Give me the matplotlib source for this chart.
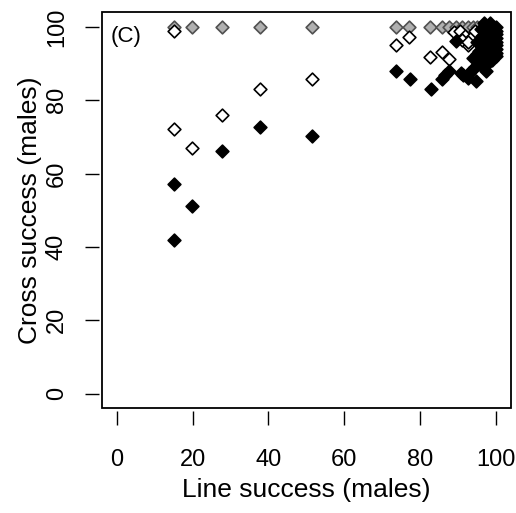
import matplotlib
matplotlib.use("Agg")
import matplotlib.pyplot as plt
from matplotlib.patches import Rectangle

plt.rcParams['font.family'] = ['Liberation Sans', 'DejaVu Sans']

# Grey-filled series (all at 100% cross success)
grey_x = [15.0, 19.8, 27.7, 37.9, 51.5, 73.7, 77.2, 82.7, 85.8, 87.6, 89.4, 91.0, 92.6, 94.0, 95.2]
grey_y = [100, 100, 100, 100, 100, 100, 100, 100, 100, 100, 100, 100, 100, 100, 100]

# Open series
open_x = [15.0, 15.0, 19.8, 27.7, 37.9, 51.5, 73.7, 77.2, 82.7, 85.8, 87.6, 92.6,
          89.0, 90.5, 92.0, 93.5, 94.5, 91.0, 92.8]
open_y = [99.0, 72.3, 66.9, 76.1, 83.1, 85.8, 95.0, 97.2, 91.8, 93.1, 91.3, 95.1,
          98.5, 99.0, 97.5, 97.0, 99.0, 96.5, 95.8]

# Black-filled series
black_x = [15.0, 19.8, 15.0, 27.7, 37.9, 51.5, 73.7, 77.5, 83.0, 85.8, 86.5, 87.6,
           90.8, 92.6, 94.8, 97.4, 89.4, 91.5, 93.0, 94.0, 95.5, 96.0, 97.0, 98.0,
           99.0, 100, 100, 100, 100, 100, 100, 100, 100, 100, 99.0, 98.0, 97.0,
           98.5, 97.5, 96.5, 99.0, 96.0, 95.0, 94.5, 96.5, 98.0, 99.5, 95.5, 97.0,
           97.0, 98.0, 96.0, 98.5, 99.0, 97.5, 95.0, 94.0]
black_y = [57.1, 51.2, 42.0, 66.3, 72.8, 70.2, 87.9, 85.8, 83.1, 85.7, 86.8, 87.9,
           87.5, 86.1, 85.2, 87.9, 96.2, 87.0, 87.5, 88.5, 91.0, 92.0, 91.5, 93.0,
           95.0, 100, 99, 98, 97, 96, 95, 94, 93, 92, 99.5, 100, 99.0,
           97.0, 96.0, 97.5, 91.0, 90.0, 92.5, 89.0, 94.5, 95.5, 98.0, 93.5, 94.0,
           101.0, 98.5, 99.5, 101.0, 93.0, 89.5, 96.0, 91.5]

fig = plt.figure(figsize=(5.16, 5.13), dpi=100)
ax = fig.add_axes([0.197, 0.204, 0.793, 0.772])

ms = 42
ax.scatter(grey_x, grey_y, marker='D', s=ms, facecolor='#b0b0b0', edgecolor='#505050', linewidth=1.2, zorder=3)
ax.scatter(open_x, open_y, marker='D', s=ms, facecolor='white', edgecolor='black', linewidth=1.2, zorder=4)
ax.scatter(black_x, black_y, marker='D', s=ms, facecolor='black', edgecolor='black', linewidth=1.2, zorder=5)

ax.set_xlim(-4, 104)
ax.set_ylim(-4, 104)

for s in ['top', 'right']:
    ax.spines[s].set_visible(False)
for s in ['bottom', 'left']:
    ax.spines[s].set_position(('outward', 1.8))
    ax.spines[s].set_linewidth(0)

ax.add_patch(Rectangle((0, 0), 1, 1, transform=ax.transAxes, fill=False,
                       edgecolor='black', linewidth=1.3, clip_on=False, zorder=10))

ticks = [0, 20, 40, 60, 80, 100]
ax.set_xticks(ticks)
ax.set_yticks(ticks)
ax.set_xticklabels([str(t) for t in ticks])
ax.set_yticklabels([str(t) for t in ticks], rotation=90, va='center')
ax.tick_params(axis='both', length=10, width=1.0, labelsize=17, direction='out', color='black')
ax.tick_params(axis='x', pad=17.5)
ax.tick_params(axis='y', pad=12.5)

ax.set_xlabel('Line success (males)', fontsize=19, labelpad=5)
ax.set_ylabel('Cross success (males)', fontsize=19, labelpad=3)

ax.text(0.022, 0.94, '(C)', transform=ax.transAxes, fontsize=16, ha='left', va='center')

fig.savefig('out.png', dpi=100)
